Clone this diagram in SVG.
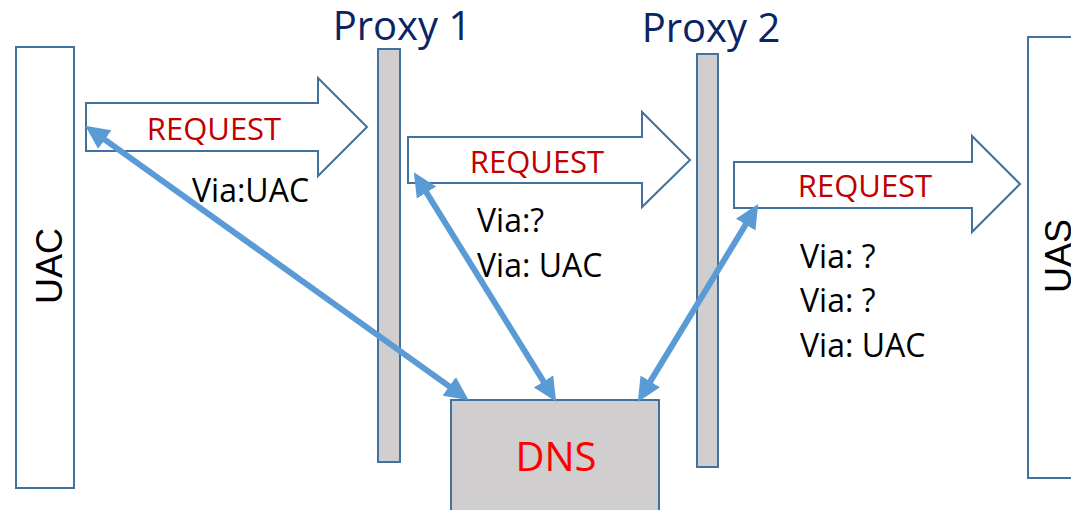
<svg xmlns="http://www.w3.org/2000/svg" width="1071" height="510" viewBox="0 0 1071 510">
  <style>
    .lane { fill: #ffffff; stroke: #41719C; stroke-width: 2; }
    .bar { fill: #D0CECE; stroke: #41719C; stroke-width: 2; }
    .block { fill: #ffffff; stroke: #41719C; stroke-width: 2; stroke-linejoin: miter; }
    .title { font-family: "Open Sans", "Liberation Sans", sans-serif; font-size: 40px; fill: #0B2463; text-anchor: middle; }
    .side { font-family: "Liberation Sans", Arial, sans-serif; font-size: 36px; fill: #000000; text-anchor: middle; }
    .req { font-family: "Open Sans", "Liberation Sans", sans-serif; font-size: 31px; fill: #C00000; text-anchor: middle; }
    .via { font-family: "Open Sans", "Liberation Sans", sans-serif; font-size: 32px; fill: #000000; }
    .dns { font-family: "Open Sans", "Liberation Sans", sans-serif; font-size: 40px; fill: #FF0000; text-anchor: middle; }
    .link { stroke: #5B9BD5; stroke-width: 6; fill: none; marker-start: url(#tip); marker-end: url(#tip); }
  </style>
  <defs>
    <marker id="tip" viewBox="0 0 20 20" refX="9" refY="10" markerWidth="24" markerHeight="24" markerUnits="userSpaceOnUse" orient="auto-start-reverse">
      <path d="M0,0.5 L20,10 L0,19.5 Z" fill="#5B9BD5"/>
    </marker>
  </defs>

  <!-- user agent client -->
  <g id="uac">
    <rect class="lane" x="16" y="47" width="58" height="441"/>
    <text class="side" transform="translate(62,266) rotate(-90)">UAC</text>
  </g>

  <!-- user agent server -->
  <g id="uas">
    <rect class="lane" x="1028" y="37" width="60" height="441"/>
    <text class="side" transform="translate(1071,256) rotate(-90)">UAS</text>
  </g>

  <!-- proxies -->
  <g id="proxy1">
    <rect class="bar" x="378" y="49" width="22" height="413"/>
    <text class="title" x="402" y="40">Proxy 1</text>
  </g>
  <g id="proxy2">
    <rect class="bar" x="697" y="54" width="21" height="413"/>
    <text class="title" x="711" y="42">Proxy 2</text>
  </g>

  <!-- DNS server -->
  <g id="dns">
    <rect class="bar" x="451" y="400" width="208" height="120"/>
    <text class="dns" x="556" y="471">DNS</text>
  </g>

  <!-- request hops -->
  <g id="request1">
    <path class="block" d="M86,103 L318,103 L318,78 L367,127 L318,176 L318,151 L86,151 Z"/>
    <text class="req" x="214" y="140">REQUEST</text>
    <text class="via" x="192" y="202">Via:UAC</text>
  </g>
  <g id="request2">
    <path class="block" d="M408,137 L642,137 L642,112 L690,160 L642,207 L642,183 L408,183 Z"/>
    <text class="req" x="537" y="173">REQUEST</text>
    <text class="via" x="477" y="232">Via:?</text>
    <text class="via" x="477" y="277">Via: UAC</text>
  </g>
  <g id="request3">
    <path class="block" d="M734,162 L972,162 L972,136 L1020,184 L972,232 L972,208 L734,208 Z"/>
    <text class="req" x="865" y="197">REQUEST</text>
    <text class="via" x="800" y="268">Via: ?</text>
    <text class="via" x="800" y="312">Via: ?</text>
    <text class="via" x="800" y="357">Via: UAC</text>
  </g>

  <!-- DNS lookups -->
  <g id="connectors">
    <line class="link" x1="96.0" y1="133.4" x2="458.0" y2="392.6"/>
    <line class="link" x1="420.8" y1="183.4" x2="549.2" y2="390.6"/>
    <line class="link" x1="751.3" y1="215.4" x2="644.7" y2="390.6"/>
  </g>
</svg>
